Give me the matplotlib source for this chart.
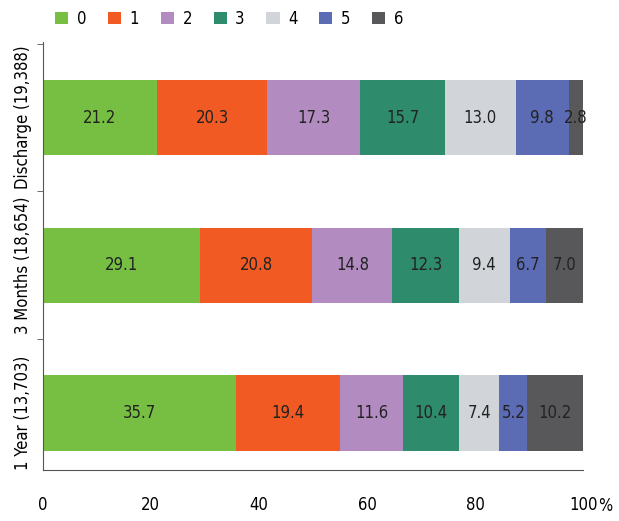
import numpy as np
import matplotlib.pyplot as plt

plt.rcParams['font.family'] = ['DejaVu Sans']
plt.rcParams['font.stretch'] = 'condensed'

groups = ['1 Year (13,703)', '3 Months (18,654)', 'Discharge (19,388)']
scores = ['0', '1', '2', '3', '4', '5', '6']
values = np.array([
    [35.7, 19.4, 11.6, 10.4, 7.4, 5.2, 10.2],
    [29.1, 20.8, 14.8, 12.3, 9.4, 6.7, 7.0],
    [21.2, 20.3, 17.3, 15.7, 13.0, 9.8, 2.8],
])
colors = ['#77bf43', '#f15a22', '#b28bc0', '#2e8b6b', '#d1d5d9', '#5b6bb4', '#58585a']

fig = plt.figure(figsize=(6.19, 5.21), dpi=100)
ax = fig.add_axes([0.069, 0.098, 0.873, 0.821])

y = np.arange(len(groups))
left = np.zeros(len(groups))
for j, s in enumerate(scores):
    ax.barh(y, values[:, j], left=left, height=0.51, color=colors[j], label=s)
    for i in range(len(groups)):
        ax.text(left[i] + values[i, j] / 2, y[i], f'{values[i, j]:.1f}',
                ha='center', va='center', fontsize=12, color='#222222')
    left += values[:, j]

ax.set_xlim(0, 100)
ax.set_ylim(-0.385, 2.51)
ax.set_xticks([0, 20, 40, 60, 80, 100])
ax.tick_params(axis='x', length=0, labelsize=12, pad=19)
ax.set_yticks(y)
ax.set_yticklabels(groups, rotation=90, va='center', fontsize=12)
ax.tick_params(axis='y', which='major', length=0, pad=8)
ax.set_yticks([0.5, 1.5, 2.5], minor=True)
ax.tick_params(axis='y', which='minor', length=4, color='#555555')
for sp in ['top', 'right']:
    ax.spines[sp].set_visible(False)
ax.spines['left'].set_color('#555555')
ax.spines['bottom'].set_color('#555555')
fig.text(0.978, 0.029, '%', ha='center', va='center', fontsize=12)

fig.legend(loc='upper center', bbox_to_anchor=(0.37, 1.01), ncol=7, frameon=False,
           fontsize=12, handlelength=0.8, handleheight=0.8, handletextpad=0.5,
           columnspacing=1.3)

fig.savefig('out.png')
